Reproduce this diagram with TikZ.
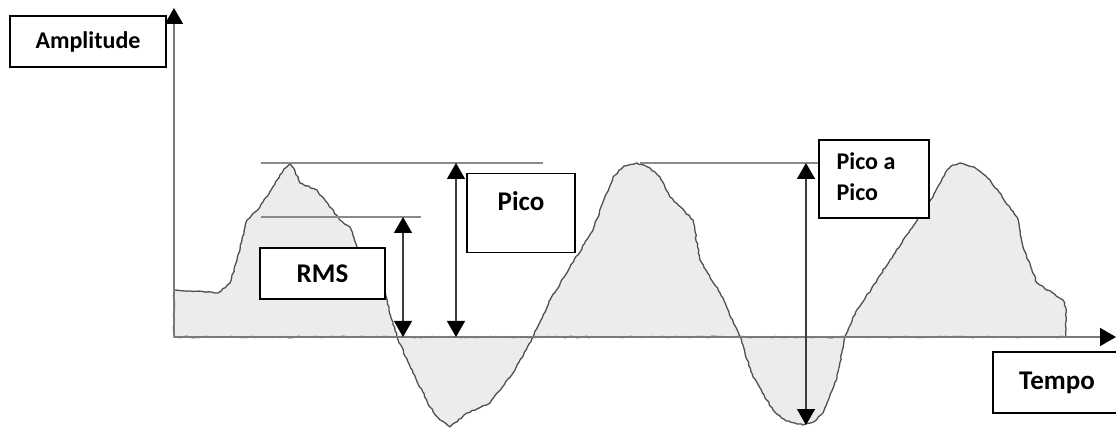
\documentclass[tikz,border=0pt]{standalone}
\usepackage{fontspec}
\setmainfont{Carlito}
\usetikzlibrary{
	arrows.meta,
	decorations.pathmorphing
}
\definecolor{axisgray}{HTML}{7A7A7A}
\definecolor{refgray}{HTML}{8A8A8A}
\definecolor{shaftgray}{HTML}{3C3C3C}
\definecolor{wavegray}{HTML}{505050}
\definecolor{wavefill}{HTML}{ECECEC}
\tikzset{
	Label-Box/.style={rectangle,draw=black,line width=1.3pt,fill=white,inner sep=0pt,font=\bfseries},
	Axis-Arrow/.style={-{Triangle[width=18pt,length=16pt,black]},line width=1.5pt,draw=axisgray},
	Ref-Line/.style={line width=1.5pt,draw=refgray},
	Dim-Arrow/.style={{Triangle[width=18pt,length=16pt,black]}-{Triangle[width=18pt,length=16pt,black]},line width=1.4pt,draw=shaftgray},
	Wave/.style={draw=wavegray,line width=1.3pt,fill=wavefill,line join=round,
		decorate,decoration={random steps,segment length=3pt,amplitude=0.7pt}}
}

\begin{document}
\begin{tikzpicture}[x=1pt,y=1pt]
	\useasboundingbox (-174,-91) rectangle (942,337);
	\pgfmathsetseed{11}
	% noisy signal, filled against the time axis
	\draw [Wave] (0,47) -- (16,46) -- (44,44) -- (56,54) -- (63,77) -- (73,117)
		-- (86,130) -- (103,157) -- (110,168) -- (116,174) -- (121,166) -- (126,154)
		-- (143,147) -- (166,117) -- (176,110) -- (183,90) -- (196,68) -- (209,50)
		-- (223,0) -- (239,-36) -- (256,-70) -- (266,-83) -- (276,-90) -- (293,-76)
		-- (316,-66) -- (339,-36) -- (359,0) -- (376,37) -- (396,70) -- (419,107)
		-- (429,135) -- (439,160) -- (450,171) -- (463,174) -- (476,169) -- (486,160)
		-- (496,140) -- (519,117) -- (526,77) -- (546,44) -- (566,0) -- (579,-40)
		-- (599,-73) -- (612,-84) -- (629,-88) -- (641,-84) -- (649,-76) -- (663,-40)
		-- (671,0) -- (679,20) -- (703,57) -- (716,77) -- (736,107) -- (759,140)
		-- (773,167) -- (779,172) -- (786,174) -- (800,170) -- (816,157) -- (843,120)
		-- (849,90) -- (863,54) -- (889,37) -- (892,29) -- (892,0) -- (0,0) -- cycle;

	\coordinate (origin) at (0,0);
	\coordinate (y_end) at (0,329);
	\coordinate (x_end) at (942,0);
	\coordinate (peak_a) at (87,174);
	\coordinate (peak_a_r) at (369,174);
	\coordinate (rms_l) at (87,120);
	\coordinate (rms_r) at (247,120);
	\coordinate (peak_b) at (466,174);
	\coordinate (trough_b) at (632,-88);
	\coordinate (rms_base) at (229,0);
	\coordinate (pico_base) at (282,0);

	% axes
	\draw [Axis-Arrow] (origin) -- (y_end);
	\draw [Axis-Arrow] (origin) -- (x_end);

	% reference levels
	\draw [Ref-Line] (peak_a) -- (peak_a_r);
	\draw [Ref-Line] (rms_l) -- (rms_r);

	% labels
	\node [Label-Box,minimum width=156pt,minimum height=51pt,font=\bfseries\fontsize{24}{28}\selectfont] (amp) at (-86,295.5) {Amplitude};
	\node [Label-Box,minimum width=128pt,minimum height=61pt,font=\bfseries\fontsize{27}{30}\selectfont] (tempo) at (883,-45.5) {Tempo};
	\node [Label-Box,minimum width=125pt,minimum height=51pt,font=\bfseries\fontsize{27}{30}\selectfont] (rms) at (148.5,63.5) {RMS};
	\node [Label-Box,minimum width=108pt,text height=37pt,text depth=42pt,anchor=north,font=\bfseries\fontsize{27}{30}\selectfont] (pico) at (347,164) {Pico};
	\node [Label-Box,minimum width=110pt,minimum height=78pt,font=\bfseries\fontsize{24}{31}\selectfont] (pap) at (700,158)
		{\begin{tabular}{@{}l@{\hspace{16pt}}}Pico a\\Pico\end{tabular}};

	\draw [Ref-Line] (peak_b) -- (peak_b -| pap.west);

	% measured quantities
	\draw [Dim-Arrow] (rms_r -| rms_base) -- (rms_base);
	\draw [Dim-Arrow] (peak_a_r -| pico_base) -- (pico_base);
	\draw [Dim-Arrow] (peak_b -| trough_b) -- (trough_b);
\end{tikzpicture}
\end{document}
